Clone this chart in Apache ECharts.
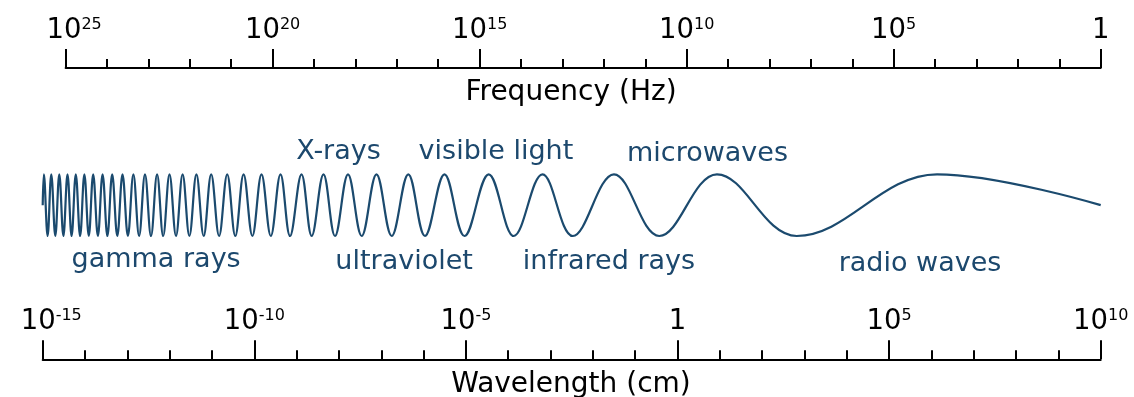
<!DOCTYPE html>
<html>
<head>
<meta charset="utf-8">
<style>
  html, body { margin: 0; padding: 0; background: #ffffff; }
  #chart { width: 1134px; height: 397px; }
</style>
<script src="https://cdn.jsdelivr.net/npm/echarts@6/dist/echarts.min.js"></script>
</head>
<body>
<div id="chart"></div>
<script>
// ---- data ----
// Frequency axis: exponents of 10 (Hz), left to right
const freqExponents = [25, 20, 15, 10, 5, 0];
// Wavelength axis: exponents of 10 (cm), left to right
const wavelengthExponents = [-15, -10, -5, 0, 5, 10];
const freqAxisName = 'Frequency (Hz)';
const wavelengthAxisName = 'Wavelength (cm)';

// Wave drawn against the wavelength axis (log10 cm): positions of its crests/troughs
const waveX = [
  -15.000, -14.972, -14.884, -14.797, -14.702, -14.608, -14.511, -14.414, -14.317,
  -14.218, -14.116, -14.015, -13.911, -13.807, -13.696, -13.585, -13.471, -13.358,
  -13.237, -13.114, -12.987, -12.857, -12.722, -12.583, -12.441, -12.297, -12.153,
  -12.004, -11.850, -11.694, -11.534, -11.368, -11.196, -11.019, -10.832, -10.640,
  -10.449, -10.253, -10.045, -9.830, -9.610, -9.381, -9.156, -8.885, -8.644,
  -8.365, -8.093, -7.786, -7.462, -7.113, -6.753, -6.361, -5.967, -5.506,
  -5.033, -4.461, -3.868, -3.190, -2.474, -1.501, -0.430, 0.933, 2.817,
  6.132, 10.000
];
const waveY = [
  0, 1, -1, 1, -1, 1, -1, 1, -1,
  1, -1, 1, -1, 1, -1, 1, -1, 1,
  -1, 1, -1, 1, -1, 1, -1, 1, -1,
  1, -1, 1, -1, 1, -1, 1, -1, 1,
  -1, 1, -1, 1, -1, 1, -1, 1, -1,
  1, -1, 1, -1, 1, -1, 1, -1, 1,
  -1, 1, -1, 1, -1, 1, -1, 1, -1,
  1, 0
];

// Spectrum band names and where they sit on the wavelength axis (log10 cm)
const bandNames   = ['gamma rays', 'X-rays', 'ultraviolet', 'visible light', 'infrared rays', 'microwaves', 'radio waves'];
const bandCenters = [-12.32, -8.01, -6.46, -4.29, -1.62, 0.71, 5.73];
const bandSide    = ['below', 'above', 'below', 'above', 'below', 'above', 'below'];

// ---- layout / style ----
const FONT = '"DejaVu Sans", Verdana, sans-serif';
const AXIS_COLOR = '#000000';
const WAVE_COLOR = '#1b4a6e';
const TEXT_COLOR = '#1c486d';
const bandLabelY = { above: [1.72, 1.72, 1.65], below: [-1.77, -1.85, -1.84, -1.90] };

function powLabel(first) {
  return function (v) {
    const e = Math.round(v);
    if (e === 0) return '{base|1}';
    return (e === first ? '{baseFirst|10}' : '{base|10}') + '{sup|' + e + '}';
  };
}
const richStyles = {
  base: { fontSize: 27.5, lineHeight: 28, fontFamily: FONT, color: AXIS_COLOR, verticalAlign: 'bottom' },
  baseFirst: { fontSize: 27.5, lineHeight: 28, fontFamily: FONT, color: AXIS_COLOR, verticalAlign: 'bottom', padding: [0, 0, 0, 17] },
  sup: { fontSize: 16, lineHeight: 16, fontFamily: FONT, color: AXIS_COLOR, verticalAlign: 'top' }
};

function logAxis(gridIndex, exps, inverse) {
  const lo = Math.min.apply(null, exps), hi = Math.max.apply(null, exps);
  return {
    type: 'value', gridIndex: gridIndex, position: 'top',
    min: lo, max: hi, interval: 5, inverse: inverse,
    axisLine: { show: true, onZero: false, lineStyle: { color: AXIS_COLOR, width: 2 } },
    axisTick: { show: true, length: 19, lineStyle: { color: AXIS_COLOR, width: 2 } },
    minorTick: { show: true, splitNumber: 5, length: 9, lineStyle: { color: AXIS_COLOR, width: 2 } },
    splitLine: { show: false }, minorSplitLine: { show: false },
    axisLabel: {
      show: true, margin: 23, formatter: powLabel(inverse ? hi : lo), rich: richStyles,
      showMinLabel: true, showMaxLabel: true, hideOverlap: false
    }
  };
}

const sideIdx = { above: 0, below: 0 };
const bandData = bandNames.map(function (n, i) {
  const side = bandSide[i];
  const y = bandLabelY[side][sideIdx[side]++];
  return { name: n, value: [bandCenters[i], y] };
});

const chart = echarts.init(document.getElementById('chart'), null, { renderer: 'canvas' });
chart.setOption({
  animation: false,
  backgroundColor: '#ffffff',
  grid: [
    { left: 65.6, right: 33.3, top: 68, height: 10 },
    { left: 42.7, right: 33.3, top: 174.3, height: 61.7 },
    { left: 42.7, right: 33.3, top: 359.3, height: 10 }
  ],
  xAxis: [
    logAxis(0, freqExponents, true),
    { type: 'value', gridIndex: 1, min: -15, max: 10, show: false },
    logAxis(2, wavelengthExponents, false)
  ],
  yAxis: [
    { type: 'value', gridIndex: 0, show: false },
    { type: 'value', gridIndex: 1, min: -1, max: 1, show: false },
    { type: 'value', gridIndex: 2, show: false }
  ],
  series: [
    {
      type: 'line', xAxisIndex: 1, yAxisIndex: 1,
      data: waveX.map(function (x, i) { return [x, waveY[i]]; }),
      smooth: 0.38, showSymbol: false, symbol: 'none', clip: false,
      lineStyle: { color: WAVE_COLOR, width: 2.2 }
    },
    {
      type: 'scatter', xAxisIndex: 1, yAxisIndex: 1, clip: false,
      symbolSize: 0, data: bandData,
      itemStyle: { opacity: 1 },
      label: {
        show: true, position: 'inside', formatter: '{b}', opacity: 1,
        fontFamily: FONT, fontSize: 27, color: TEXT_COLOR
      }
    }
  ],
  graphic: [
    { type: 'text', x: 571, y: 92.8, style: { text: freqAxisName, fontFamily: FONT, fontSize: 28, fill: AXIS_COLOR, align: 'center', verticalAlign: 'middle' } },
    { type: 'text', x: 571, y: 385.2, style: { text: wavelengthAxisName, fontFamily: FONT, fontSize: 28, fill: AXIS_COLOR, align: 'center', verticalAlign: 'middle' } }
  ]
});
</script>
</body>
</html>
